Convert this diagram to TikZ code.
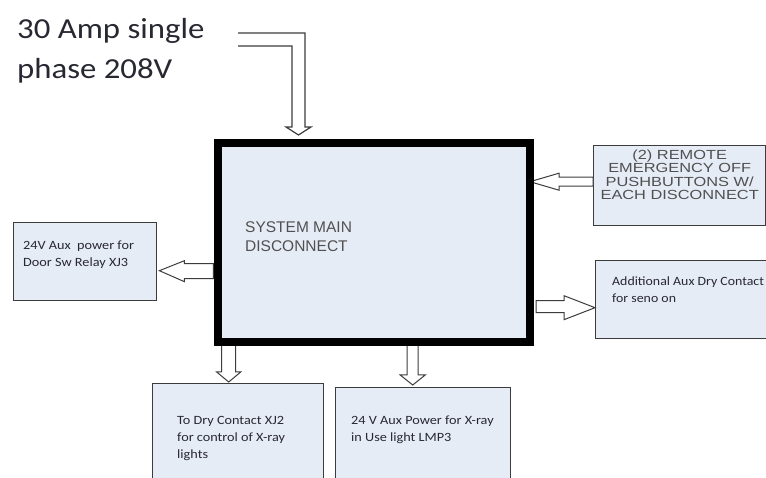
\documentclass[tikz,border=0pt]{standalone}
\usepackage{fontspec}
\setmainfont{Carlito}
\newfontfamily\calw[FakeStretch=1.13]{Carlito}
\newfontfamily\calv[FakeStretch=1.1]{Carlito}
\newfontfamily\arialw[FakeStretch=1.24]{Liberation Sans}
\newfontfamily\arialf{Liberation Sans}
\usetikzlibrary{calc}
\definecolor{boxfill}{RGB}{230,236,246}
\definecolor{edgegray}{RGB}{60,60,60}
\definecolor{txtgray}{RGB}{80,80,80}
\definecolor{txtdark}{RGB}{40,40,50}
\begin{document}
\begin{tikzpicture}[x=1pt,y=-1pt,
  box/.style={draw=edgegray, line width=1.4pt, fill=boxfill, rectangle, anchor=north west, inner sep=0pt},
  mainbox/.style={draw=black, line width=8pt, fill=boxfill, rectangle, anchor=north west, inner sep=0pt},
  blk/.style={draw=edgegray, fill=white, line width=1pt, line join=miter},
  wire/.style={draw=edgegray, line width=1.2pt, line join=miter},
  smalltxt/.style={anchor=base west, inner sep=0pt, align=left, text=txtdark, font=\calw\fontsize{12.6}{17}\selectfont},
  capstxt/.style={inner sep=0pt, text=txtgray},
]
\useasboundingbox (0,0) rectangle (766,478);
\clip (0,0) rectangle (766,478);
\fill[white] (0,0) rectangle (766,478);

% outer boxes
\node[box, minimum width=143pt, minimum height=78pt] (Lbox) at (13,222) {};
\node[box, minimum width=172pt, minimum height=80pt] (emo) at (593,145) {};
\node[box, minimum width=180pt, minimum height=78pt] (Rbox) at (595,260) {};
\node[box, minimum width=171pt, minimum height=110pt] (B1) at (152,383) {};
\node[box, minimum width=175pt, minimum height=110pt] (B2) at (335,387) {};

% title text (base = last line)
\node[anchor=base west, inner sep=0pt, align=left, text=txtdark,
      font=\calw\fontsize{29}{40}\selectfont] (title) at (17,79)
      {30 Amp single\\phase 208V};

% arrows (drawn before main box)
\coordinate (inA) at (238,33);
\coordinate (inB) at (238,46);
\coordinate (tipT) at (298.5,135);
\draw[wire, fill=white] (inA) -| ($(tipT)+(6.5,-8)$) -- ++(6,0) -- (tipT) -- ++(-12.5,-8) -- ++(6,0) |- (inB);

\coordinate (tipE) at ($(emo.west)+(-63,-4)$);
\draw[blk] (tipE) -- ++(29,-8.5) -- ++(0,4) -- ++(34,0) -- ++(0,9) -- ++(-34,0) -- ++(0,4) -- cycle;

\coordinate (tipL) at ($(Lbox.east)+(2,9)$);
\draw[blk] (tipL) -- ++(25,-10) -- ++(0,3) -- ++(29,0) -- ++(0,15) -- ++(-29,0) -- ++(0,3) -- cycle;

\coordinate (tipR) at ($(Rbox.west)+(0,8)$);
\draw[blk] (tipR) -- ++(-31,-12) -- ++(0,5) -- ++(-28,0) -- ++(0,12) -- ++(28,0) -- ++(0,7) -- cycle;

\coordinate (tipB1) at ($(B1.north)+(-9.5,-1)$);
\draw[blk] (tipB1) -- ++(-12,-10) -- ++(5,0) -- ++(0,-34) -- ++(14,0) -- ++(0,34) -- ++(5,0) -- cycle;

\coordinate (tipB2) at ($(B2.north)+(-10.5,-2)$);
\draw[blk] (tipB2) -- ++(-12.5,-10) -- ++(7,0) -- ++(0,-37) -- ++(11,0) -- ++(0,37) -- ++(7,0) -- cycle;

% main box
\node[mainbox, minimum width=312pt, minimum height=199pt] (main) at (214,139) {};

% texts (anchor base = baseline of last line)
\node[capstxt, anchor=base west, align=left, font=\arialf\fontsize{15.5}{19}\selectfont]
   (mainT) at (245,252) {SYSTEM MAIN\\DISCONNECT};
\node[capstxt, anchor=base, align=center, font=\arialw\fontsize{13.2}{13.3}\selectfont]
   (emoT) at ($(emo.north)+(0,54.5)$) {(2) REMOTE\\EMERGENCY OFF\\PUSHBUTTONS W/\\EACH DISCONNECT};
\node[smalltxt] (LT) at (23,267) {24V Aux\ \ power for\\Door Sw Relay XJ3};
\node[smalltxt, font=\calv\fontsize{12.6}{17}\selectfont] (RT) at (612,303) {Additional Aux Dry Contact\\for seno on};
\node[smalltxt] (B1T) at (177,458) {To Dry Contact XJ2\\for control of X-ray\\lights};
\node[smalltxt] (B2T) at (351,441) {24 V Aux Power for X-ray\\in Use light LMP3};
\end{tikzpicture}
\end{document}
